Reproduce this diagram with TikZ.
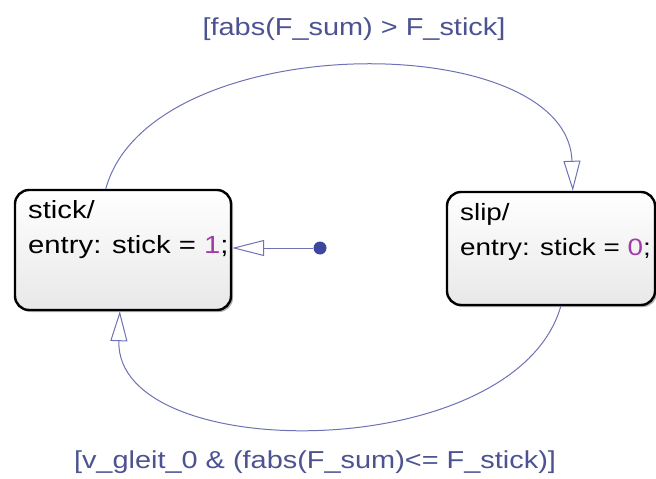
\documentclass[tikz,border=0pt]{standalone}
\usepackage{fontspec}
\setmainfont{Liberation Sans}[FakeStretch=1.18]
\usetikzlibrary{arrows.meta,shadows,calc}
\definecolor{conncol}{HTML}{6E72B4}
\definecolor{labcol}{HTML}{4D5391}
\definecolor{numcol}{HTML}{A03CA8}
\definecolor{dotcol}{HTML}{3E479E}
\tikzset{
  statebox/.style={draw=black, line width=2.4pt, rounded corners=14pt,
    top color=white, bottom color=black!9,
    drop shadow={shadow xshift=2pt, shadow yshift=-2pt, opacity=.45, fill=black!70}},
  txt/.style={anchor=base west, inner sep=0pt, font=\fontsize{24.8}{29}\selectfont},
  txtn/.style={anchor=base west, inner sep=0pt, font=\fontsize{23.6}{29}\selectfont},
  lab/.style={anchor=base, inner sep=0pt, text=labcol, font=\fontsize{24.5}{29}\selectfont},
  conn/.style={draw=conncol, line width=1pt},
  opentip/.style={-{Triangle[open, length=30pt, width=17pt, fill=white]}},
  inittip/.style={-{Triangle[open, length=32pt, width=16pt, fill=white]}},
}
\begin{document}
\begin{tikzpicture}[x=1pt, y=-1pt]
\useasboundingbox[fill=white] (0,0) rectangle (656,479);
% states
\node[statebox, minimum width=216pt, minimum height=120pt] (stick) at (123,250) {};
\node[statebox, minimum width=208pt, minimum height=113pt] (slip) at (551,248.5) {};
\node[txt] (stickA) at (28,218) {stick/};
\node[txt] (stickB) at (28,253) {entry: stick = \textcolor{numcol}{1};};
\node[txtn] (slipA) at (460,220) {slip/};
\node[txtn] (slipB) at (460,255) {entry: stick = \textcolor{numcol}{0};};
% default transition
\node[circle, fill=dotcol, inner sep=0pt, minimum size=13pt] (dot) at (320,248) {};
\draw[conn, inittip] (dot) -- (stick.east |- dot);
% stick -> slip
\draw[conn, opentip] ([xshift=92pt]stick.north west)
  .. controls (150,27) and (568,27) .. ([xshift=127pt]slip.north west);
% slip -> stick
\draw[conn, opentip] ([xshift=115pt]slip.south west)
  .. controls (515,466) and (115,466) .. ([xshift=106pt]stick.south west);
% labels
\node[lab] (labtop) at (354,35) {[fabs(F\_sum) > F\_stick]};
\node[lab] (labbot) at (315,468) {[v\_gleit\_0 \& (fabs(F\_sum)<= F\_stick)]};
\end{tikzpicture}
\end{document}
